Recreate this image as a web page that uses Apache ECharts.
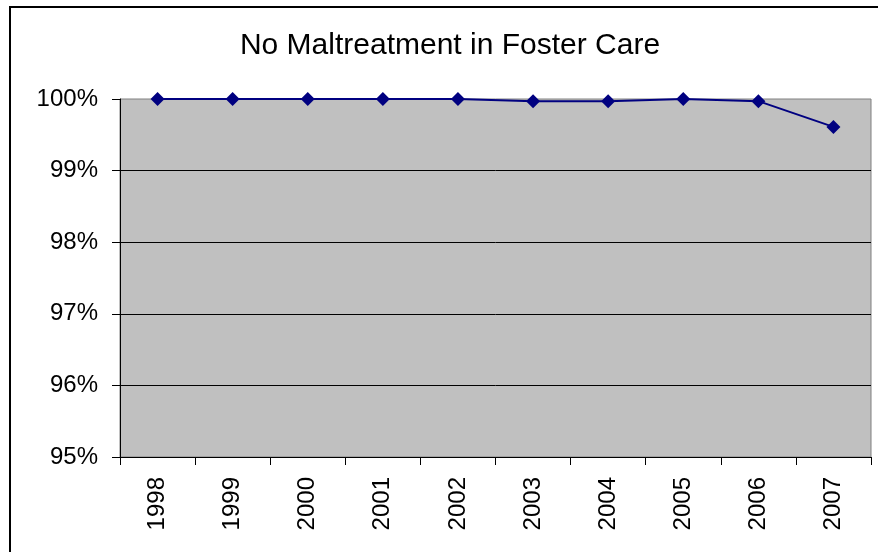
<!DOCTYPE html>
<html>
<head>
<meta charset="utf-8">
<script src="https://cdn.jsdelivr.net/npm/echarts@6/dist/echarts.min.js"></script>
<style>
  html, body { margin: 0; padding: 0; background: #fff; }
  #chart { width: 878px; height: 552px; }
</style>
</head>
<body>
<div id="chart"></div>
<script>
// years and percent without maltreatment
var years = ['1998', '1999', '2000', '2001', '2002', '2003', '2004', '2005', '2006', '2007'];
var noMaltreatment = [100, 100, 100, 100, 100, 99.97, 99.97, 100, 99.97, 99.61];
var yMin = 95, yMax = 100, yStep = 1;

var chart = echarts.init(document.getElementById('chart'));
var font = 'Arial, "Liberation Sans", sans-serif';

chart.setOption({
    animation: false,
    title: {
        text: 'No Maltreatment in Foster Care',
        left: 445,
        textAlign: 'center',
        top: 26,
        textStyle: { fontFamily: font, fontSize: 30, fontWeight: 'normal', color: '#000' }
    },
    graphic: [{
        type: 'rect',
        shape: { x: 10, y: 7, width: 900, height: 600 },
        style: { fill: 'none', stroke: '#000', lineWidth: 2 },
        silent: true
    }],
    grid: {
        left: 120,
        right: 7,
        top: 99,
        bottom: 95,
        show: true,
        backgroundColor: '#c0c0c0',
        borderColor: '#808080',
        borderWidth: 1
    },
    xAxis: {
        type: 'category',
        data: years,
        boundaryGap: true,
        axisLine: { lineStyle: { color: '#000', width: 1 } },
        axisTick: { show: true, length: 8, lineStyle: { color: '#000' } },
        axisLabel: {
            rotate: 90,
            margin: 20,
            color: '#000',
            fontFamily: font,
            fontSize: 24
        }
    },
    yAxis: {
        type: 'value',
        min: yMin,
        max: yMax,
        interval: yStep,
        axisLine: { show: true, lineStyle: { color: '#000', width: 1 } },
        axisTick: { show: true, length: 8, lineStyle: { color: '#000' } },
        splitLine: { show: true, showMaxLine: false, lineStyle: { color: '#000', width: 1 } },
        axisLabel: {
            margin: 22,
            color: '#000',
            fontFamily: font,
            fontSize: 24,
            formatter: '{value}%'
        }
    },
    series: [{
        type: 'line',
        data: noMaltreatment,
        symbol: 'diamond',
        symbolSize: 14,
        itemStyle: { color: '#000080' },
        lineStyle: { color: '#000080', width: 2 }
    }]
});
</script>
</body>
</html>
